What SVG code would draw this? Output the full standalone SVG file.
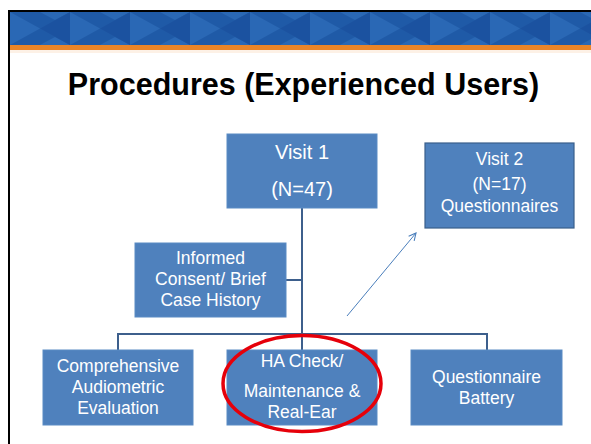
<svg xmlns="http://www.w3.org/2000/svg" width="591" height="444" viewBox="0 0 591 444">
  <defs>
    <style>
      .box { fill: #4f81bd; stroke: #5a8bc4; stroke-width: 1; }
      .box2 { fill: #4f81bd; stroke: #3a5f8b; stroke-width: 1.2; }
      .lbl { font-family: "Liberation Sans", Arial, sans-serif; font-size: 17.5px; fill: #ffffff; text-anchor: middle; }
      .big { font-size: 20px; }
      .link { stroke: #3d5f8c; stroke-width: 2; fill: none; }
    </style>
    <pattern id="tri" x="10" y="12" width="60" height="33" patternUnits="userSpaceOnUse">
      <rect width="60" height="33" fill="#1f5aa7"/>
      <polygon points="0,0 30,16.5 0,33" fill="#2a68b5"/>
      <polygon points="30,0 60,0 45,8" fill="#2a68b5"/>
      <polygon points="30,33 60,33 45,25" fill="#2a68b5"/>
      <polygon points="30,16.5 60,0 60,33" fill="#1b52a0"/>
    </pattern>
    <marker id="open" viewBox="0 0 10 10" refX="9" refY="5" markerWidth="9" markerHeight="9" orient="auto" markerUnits="userSpaceOnUse">
      <path d="M1,1 L9,5 L1,9" fill="none" stroke="#4a7ebb" stroke-width="1.2"/>
    </marker>
  </defs>

  <!-- slide background and header band -->
  <rect x="0" y="0" width="591" height="444" fill="#ffffff"/>
  <rect x="10" y="12" width="581" height="33" fill="url(#tri)"/>
  <rect x="10" y="45" width="581" height="5" fill="#ea8528"/>
  <rect x="10" y="50" width="581" height="3" fill="#fdf1e6"/>
  <!-- frame edges -->
  <rect x="8" y="10" width="583" height="2" fill="#000000"/>
  <rect x="8" y="10" width="2" height="434" fill="#000000"/>

  <text x="303.5" y="95" font-family="'Liberation Sans', Arial, sans-serif" font-size="30.5" font-weight="bold" fill="#000000" text-anchor="middle">Procedures (Experienced Users)</text>

  <!-- connectors -->
  <g id="connectors">
    <line class="link" x1="302" y1="208" x2="302" y2="350"/>
    <line class="link" x1="286" y1="280" x2="302" y2="280"/>
    <polyline class="link" points="118,350 118,334 487,334 487,350"/>
    <line x1="347" y1="316" x2="416" y2="233" stroke="#4a7ebb" stroke-width="1" marker-end="url(#open)"/>
  </g>

  <g id="visit1">
    <rect class="box" x="227" y="134" width="150" height="74"/>
    <text class="lbl big" x="302" y="159">Visit 1</text>
    <text class="lbl big" x="302" y="196">(N=47)</text>
  </g>

  <g id="visit2">
    <rect class="box2" x="425" y="143" width="149" height="85"/>
    <text class="lbl" x="499.5" y="165">Visit 2</text>
    <text class="lbl" x="499.5" y="190">(N=17)</text>
    <text class="lbl" x="499.5" y="212">Questionnaires</text>
  </g>

  <g id="consent">
    <rect class="box" x="135" y="243" width="151" height="74"/>
    <text class="lbl" x="210.5" y="264">Informed</text>
    <text class="lbl" x="210.5" y="285">Consent/ Brief</text>
    <text class="lbl" x="210.5" y="306">Case History</text>
  </g>

  <g id="audiometric">
    <rect class="box" x="43" y="350" width="150" height="75"/>
    <text class="lbl" x="118" y="372">Comprehensive</text>
    <text class="lbl" x="118" y="393">Audiometric</text>
    <text class="lbl" x="118" y="414">Evaluation</text>
  </g>

  <g id="hacheck">
    <rect class="box" x="227" y="350" width="150" height="75"/>
    <text class="lbl" x="302" y="367">HA Check/</text>
    <text class="lbl" x="302" y="397">Maintenance &amp;</text>
    <text class="lbl" x="302" y="418">Real-Ear</text>
  </g>

  <g id="questionnaire">
    <rect class="box" x="411" y="350" width="151" height="75"/>
    <text class="lbl" x="486.5" y="383">Questionnaire</text>
    <text class="lbl" x="486.5" y="404">Battery</text>
  </g>

  <!-- highlight ring -->
  <ellipse cx="302" cy="383.5" rx="79" ry="48" fill="none" stroke="#e6000a" stroke-width="3.5"/>
</svg>
